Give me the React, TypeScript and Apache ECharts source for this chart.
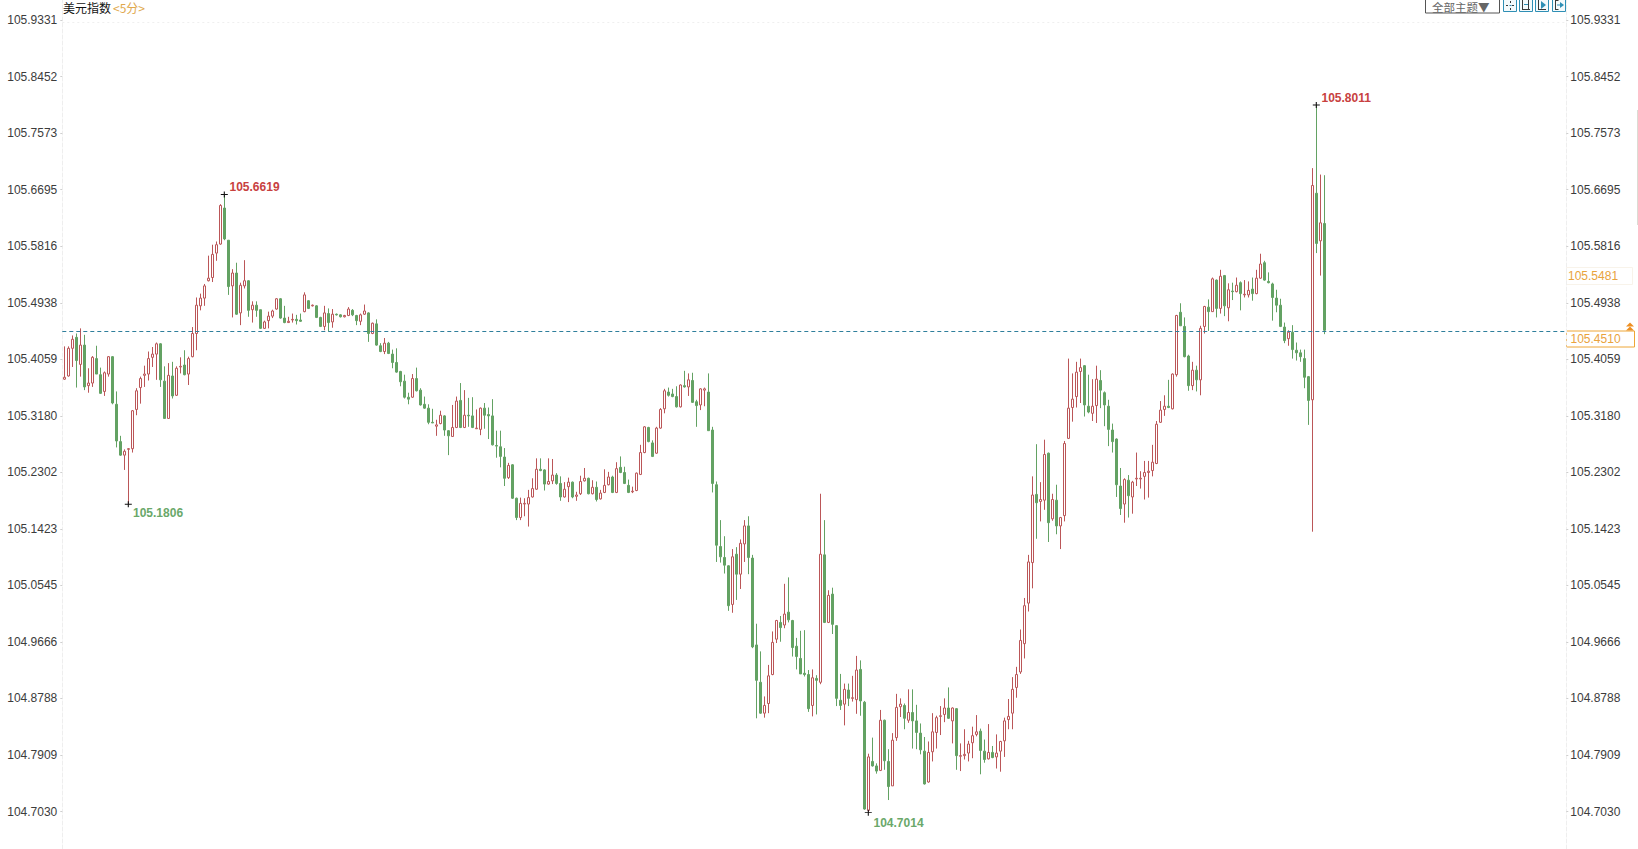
import React, { useEffect, useRef } from "react";
import * as echarts from "echarts";

const yTicks = [105.9331, 105.8452, 105.7573, 105.6695, 105.5816, 105.4938, 105.4059, 105.318, 105.2302, 105.1423, 105.0545, 104.9666, 104.8788, 104.7909, 104.703];

const opens = [
105.375,105.380,105.423,105.440,105.398,105.428,105.365,105.369,105.407,105.382,
105.356,105.383,105.410,105.336,105.278,105.257,105.266,105.267,105.328,105.362,
105.381,105.383,105.409,105.414,105.430,105.372,105.314,105.380,105.350,105.394,
105.397,105.383,105.410,105.446,105.489,105.501,105.528,105.533,105.571,105.585,
105.641,105.591,105.520,105.540,105.478,105.520,105.528,105.483,105.490,105.483,
105.454,105.466,105.473,105.484,105.500,105.470,105.463,105.467,105.468,105.467,
105.480,105.497,105.489,105.489,105.471,105.457,105.477,105.464,105.476,105.475,
105.472,105.474,105.482,105.474,105.465,105.476,105.478,105.446,105.461,105.427,
105.418,105.431,105.414,105.401,105.387,105.372,105.347,105.347,105.376,105.358,
105.336,105.330,105.308,105.302,105.306,105.318,105.295,105.286,105.300,105.342,
105.300,105.319,105.318,105.298,105.297,105.330,105.320,105.318,105.272,105.270,
105.254,105.222,105.242,105.190,105.160,105.181,105.181,105.192,105.204,105.235,
105.234,105.212,105.217,105.226,105.213,105.192,105.208,105.215,105.193,105.197,
105.217,105.221,105.197,105.207,105.189,105.199,105.211,105.223,105.199,105.238,
105.230,105.210,105.200,105.202,105.227,105.261,105.300,105.276,105.260,105.299,
105.329,105.355,105.352,105.348,105.332,105.365,105.363,105.373,105.340,105.335,
105.358,105.355,105.296,105.211,105.115,105.098,105.085,105.025,105.103,105.072,
105.119,105.147,105.097,104.962,104.904,104.856,104.871,104.916,104.971,104.997,
104.993,105.013,105.000,104.960,104.941,104.918,104.916,104.868,104.910,104.904,
105.102,104.997,105.041,104.992,104.876,104.870,104.892,104.879,104.877,104.924,
104.873,104.705,104.781,104.774,104.767,104.845,104.781,104.743,104.818,104.866,
104.868,104.845,104.857,104.844,104.825,104.797,104.749,104.796,104.826,104.851,
104.854,104.864,104.844,104.863,104.789,104.790,104.794,104.810,104.823,104.828,
104.797,104.785,104.795,104.788,104.797,104.813,104.846,104.856,104.896,104.920,
104.964,105.027,105.090,105.196,105.185,105.187,105.260,105.158,105.187,105.147,
105.163,105.283,105.331,105.348,105.387,105.396,105.333,105.322,105.334,105.373,
105.354,105.333,105.296,105.282,105.209,105.181,105.218,105.192,105.220,105.220,
105.224,105.230,105.233,105.244,105.308,105.328,105.333,105.329,105.382,105.479,
105.457,105.411,105.365,105.389,105.374,105.457,105.487,105.480,105.529,105.485,
105.536,105.486,105.512,105.511,105.525,105.506,105.506,105.515,105.508,105.532,
105.556,105.527,105.523,105.501,105.490,105.456,105.438,105.448,105.420,105.416,
105.407,105.379,105.343,105.664,105.590,105.617,
];

const closes = [
105.378,105.423,105.437,105.404,105.428,105.363,105.369,105.409,105.383,105.353,
105.385,105.410,105.338,105.279,105.257,105.263,105.267,105.326,105.357,105.376,
105.383,105.407,105.414,105.430,105.374,105.314,105.381,105.349,105.392,105.395,
105.382,105.407,105.446,105.490,105.501,105.520,105.532,105.569,105.584,105.645,
105.593,105.519,105.540,105.476,105.521,105.528,105.482,105.490,105.482,105.454,
105.464,105.473,105.481,105.500,105.470,105.463,105.465,105.468,105.466,105.465,
105.506,105.485,105.490,105.471,105.457,105.478,105.463,105.476,105.475,105.472,
105.474,105.484,105.475,105.466,105.475,105.481,105.446,105.462,105.428,105.418,
105.431,105.415,105.401,105.386,105.371,105.347,105.344,105.376,105.357,105.335,
105.330,105.308,105.307,105.304,105.319,105.296,105.287,105.300,105.341,105.300,
105.319,105.318,105.300,105.299,105.330,105.319,105.318,105.273,105.271,105.255,
105.221,105.241,105.190,105.160,105.182,105.182,105.191,105.205,105.235,105.233,
105.212,105.216,105.226,105.213,105.192,105.204,105.215,105.192,105.195,105.216,
105.221,105.197,105.207,105.188,105.198,105.210,105.223,105.199,105.236,105.230,
105.213,105.199,105.201,105.229,105.261,105.301,105.278,105.255,105.299,105.328,
105.357,105.350,105.348,105.332,105.366,105.363,105.374,105.339,105.334,105.360,
105.360,105.295,105.213,105.117,105.099,105.086,105.023,105.099,105.072,105.120,
105.147,105.098,104.959,104.907,104.856,104.868,104.914,104.966,105.000,104.989,
105.010,105.001,104.958,104.944,104.917,104.916,104.863,104.911,104.907,105.103,
104.997,105.039,104.994,104.879,104.868,104.893,104.879,104.880,104.923,104.875,
104.707,104.788,104.774,104.766,104.845,104.782,104.742,104.814,104.865,104.870,
104.848,104.857,104.844,104.826,104.799,104.746,104.795,104.827,104.849,104.852,
104.864,104.848,104.864,104.790,104.790,104.792,104.808,104.821,104.827,104.798,
104.784,104.795,104.787,104.794,104.812,104.844,104.851,104.893,104.916,104.969,
105.023,105.091,105.195,105.183,105.188,105.258,105.152,105.188,105.147,105.160,
105.275,105.330,105.344,105.386,105.393,105.335,105.324,105.333,105.375,105.358,
105.335,105.297,105.278,105.211,105.174,105.219,105.194,105.215,105.221,105.221,
105.230,105.232,105.246,105.305,105.327,105.333,105.331,105.383,105.474,105.458,
105.410,105.365,105.389,105.374,105.454,105.488,105.480,105.531,105.485,105.535,
105.489,105.514,105.511,105.521,105.508,105.507,105.513,105.508,105.532,105.554,
105.529,105.525,105.502,105.490,105.457,105.435,105.448,105.421,105.416,105.410,
105.378,105.342,105.676,105.586,105.618,105.451,
];

const lows = [
105.374,105.379,105.394,105.362,105.379,105.358,105.354,105.363,105.383,105.352,
105.349,105.379,105.336,105.269,105.256,105.234,105.1806,105.261,105.319,105.337,
105.363,105.373,105.394,105.374,105.363,105.314,105.314,105.345,105.349,105.384,
105.381,105.366,105.409,105.420,105.482,105.489,105.527,105.526,105.559,105.584,
105.591,105.506,105.471,105.475,105.459,105.516,105.472,105.463,105.472,105.453,
105.453,105.454,105.470,105.483,105.469,105.462,105.463,105.463,105.460,105.464,
105.479,105.484,105.488,105.470,105.456,105.451,105.449,105.455,105.474,105.471,
105.471,105.473,105.473,105.459,105.459,105.475,105.433,105.445,105.427,105.417,
105.414,105.414,105.392,105.385,105.364,105.345,105.336,105.346,105.356,105.334,
105.329,105.305,105.307,105.287,105.305,105.287,105.257,105.286,105.299,105.299,
105.299,105.301,105.299,105.298,105.288,105.298,105.282,105.272,105.253,105.238,
105.209,105.220,105.189,105.156,105.156,105.162,105.146,105.191,105.203,105.232,
105.202,105.211,105.212,105.211,105.186,105.191,105.184,105.190,105.186,105.195,
105.216,105.196,105.196,105.185,105.188,105.198,105.210,105.198,105.198,105.229,
105.212,105.198,105.198,105.201,105.226,105.260,105.277,105.254,105.259,105.298,
105.322,105.348,105.347,105.331,105.331,105.362,105.349,105.338,105.301,105.327,
105.333,105.295,105.199,105.091,105.090,105.073,105.015,105.012,105.032,105.049,
105.091,105.072,104.957,104.848,104.855,104.849,104.856,104.915,104.965,104.967,
104.988,104.997,104.944,104.924,104.917,104.913,104.858,104.851,104.854,104.901,
104.996,104.996,104.979,104.867,104.861,104.837,104.867,104.874,104.855,104.852,
104.706,104.7014,104.773,104.762,104.766,104.768,104.721,104.743,104.813,104.850,
104.831,104.841,104.801,104.800,104.792,104.745,104.748,104.781,104.801,104.822,
104.842,104.847,104.809,104.768,104.766,104.784,104.781,104.786,104.820,104.761,
104.779,104.784,104.786,104.770,104.765,104.788,104.831,104.831,104.880,104.917,
104.941,105.014,105.050,105.127,105.154,105.172,105.122,105.155,105.134,105.111,
105.154,105.282,105.309,105.331,105.338,105.317,105.322,105.310,105.307,105.330,
105.302,105.271,105.261,105.192,105.164,105.152,105.160,105.166,105.209,105.205,
105.188,105.191,105.224,105.243,105.307,105.318,105.330,105.328,105.379,105.458,
105.409,105.357,105.358,105.356,105.350,105.446,105.450,105.480,105.471,105.477,
105.473,105.465,105.498,105.510,105.482,105.502,105.502,105.497,105.507,105.531,
105.528,105.524,105.466,105.479,105.456,105.431,105.427,105.407,105.404,105.402,
105.361,105.304,105.138,105.571,105.536,105.445,
];

const highs = [
105.426,105.426,105.443,105.446,105.454,105.444,105.392,105.411,105.427,105.393,
105.387,105.411,105.411,105.356,105.287,105.266,105.268,105.327,105.361,105.379,
105.396,105.418,105.425,105.432,105.431,105.395,105.400,105.402,105.395,105.409,
105.420,105.410,105.456,105.502,105.508,105.523,105.567,105.584,105.589,105.647,
105.6619,105.591,105.546,105.556,105.525,105.560,105.529,105.496,105.496,105.483,
105.466,105.480,105.483,105.501,105.501,105.489,105.472,105.477,105.475,105.477,
105.510,105.498,105.491,105.490,105.472,105.489,105.485,105.484,105.477,105.476,
105.475,105.487,105.484,105.475,105.477,105.491,105.479,105.463,105.468,105.431,
105.439,105.433,105.421,105.423,105.388,105.382,105.354,105.383,105.393,105.361,
105.348,105.336,105.329,105.312,105.326,105.319,105.296,105.335,105.348,105.369,
105.358,105.346,105.347,105.328,105.331,105.338,105.331,105.344,105.295,105.295,
105.268,105.245,105.243,105.191,105.191,105.190,105.203,105.221,105.252,105.252,
105.235,105.252,105.251,105.229,105.224,105.215,105.222,105.216,105.200,105.225,
105.237,105.222,105.218,105.216,105.203,105.235,105.231,105.225,105.246,105.255,
105.239,105.219,105.208,105.230,105.273,105.302,105.301,105.280,105.301,105.330,
105.360,105.362,105.360,105.364,105.367,105.388,105.384,105.385,105.343,105.361,
105.362,105.384,105.301,105.216,105.156,105.131,105.086,105.111,105.114,105.126,
105.156,105.162,105.102,104.995,104.952,104.882,104.931,104.983,105.001,105.007,
105.057,105.067,105.001,104.973,104.984,104.985,104.923,104.924,104.915,105.197,
105.156,105.047,105.051,104.993,104.917,104.902,104.902,104.914,104.945,104.938,
104.875,104.793,104.818,104.778,104.861,104.846,104.800,104.825,104.886,104.879,
104.871,104.893,104.893,104.869,104.840,104.819,104.812,104.856,104.852,104.867,
104.879,104.896,104.865,104.864,104.809,104.831,104.813,104.835,104.853,104.832,
104.815,104.839,104.805,104.823,104.813,104.849,104.878,104.912,104.928,104.986,
105.035,105.102,105.224,105.274,105.215,105.281,105.261,105.197,105.211,105.161,
105.279,105.407,105.384,105.402,105.407,105.397,105.382,105.375,105.396,105.389,
105.356,105.343,105.306,105.283,105.237,105.221,105.226,105.217,105.261,105.232,
105.248,105.248,105.273,105.310,105.341,105.350,105.374,105.384,105.475,105.493,
105.471,105.413,105.402,105.396,105.458,105.489,105.499,105.533,105.530,105.545,
105.537,105.524,105.525,105.533,105.527,105.529,105.527,105.533,105.545,105.570,
105.559,105.541,105.525,105.514,105.500,105.463,105.451,105.459,105.432,105.421,
105.421,105.380,105.703,105.8011,105.693,105.692,
];

const extremes = [
  { index: 40, value: 105.6619, text: "105.6619", kind: "high" },
  { index: 16, value: 105.1806, text: "105.1806", kind: "low" },
  { index: 201, value: 104.7014, text: "104.7014", kind: "low" },
  { index: 313, value: 105.8011, text: "105.8011", kind: "high" },
];

const lastPrice = 105.451;
const titleText = "美元指数";
const periodText = "<5分>";
const themeText = "全部主题▼";
const prevLabel = "105.5481";
const lastLabel = "105.4510";

const FONT = "'Liberation Sans', Arial, sans-serif";
const CJK = "'Noto Sans CJK SC'";
const RED = "#bb5658";
const GREEN = "#63a263";
const ICON = "#2f8fb5";
const DARK = "#3a3a3a";
const ORANGE = "#e9a33c";
const SLOTS = 376;

const seg = (x1: number, y1: number, x2: number, y2: number, stroke: string) => ({
  type: "line",
  shape: { x1, y1, x2, y2 },
  style: { stroke, lineWidth: 1 },
});

function iconFrame(x: number) {
  return { type: "rect", shape: { x: x + 0.5, y: -1.5, width: 13, height: 13 }, style: { fill: "#f4fafc", stroke: ICON, lineWidth: 1 } };
}

const toolbarIcons = [
  iconFrame(1503),
  seg(1506, 5.5, 1508, 5.5, DARK), seg(1512, 5.5, 1514, 5.5, DARK), seg(1510.5, 1, 1510.5, 3, DARK), seg(1510.5, 8, 1510.5, 10, DARK), seg(1509.5, 5.5, 1511.5, 5.5, ICON),
  iconFrame(1519),
  seg(1522.5, 0, 1522.5, 9.5, DARK), seg(1528.5, 0, 1528.5, 9.5, DARK), seg(1522, 9.5, 1530, 9.5, DARK), seg(1524, 4.5, 1528, 4.5, ICON),
  iconFrame(1535),
  seg(1538.5, 0, 1538.5, 9.5, DARK), seg(1538, 9.5, 1546, 9.5, DARK),
  { type: "polygon", shape: { points: [[1541, 1], [1546, 5], [1541, 9]] }, style: { fill: ICON } },
  iconFrame(1552),
  seg(1555.5, 0, 1555.5, 10, DARK), seg(1555.5, 0.5, 1558.5, 0.5, DARK), seg(1555.5, 9.5, 1558.5, 9.5, DARK), seg(1557, 5, 1561, 5, ICON),
  { type: "polygon", shape: { points: [[1560, 2], [1564, 5], [1560, 8]] }, style: { fill: ICON } },
];

export default function App() {
  const ref = useRef<HTMLDivElement>(null);
  useEffect(() => {
    if (!ref.current) return;
    const chart = echarts.init(ref.current, undefined, { renderer: "svg" });
    const categories = Array.from({ length: SLOTS }, (_, i) => String(i));
    const yAxisBase = {
      type: "value",
      min: 104.6449,
      max: 105.9643,
      splitLine: { show: false },
      axisLine: { show: true, lineStyle: { color: "#eeeeee", type: "dashed", width: 1 } },
      axisTick: { show: true, customValues: yTicks, length: 2, lineStyle: { color: "#cfcfcf" } },
    };
    const labelBase = {
      customValues: yTicks,
      formatter: (v: number) => v.toFixed(4),
      color: "#3c3c3c",
      fontFamily: FONT,
      fontSize: 12,
      padding: [0, 0, 2, 0],
    };
    const labelOffsets: Record<number, number[]> = {
      40: [-1, -8],
      16: [-1.5, 8.5],
      201: [-1, 10],
      313: [-1, -7],
    };
    chart.setOption({
      animation: false,
      backgroundColor: "#ffffff",
      grid: { left: 62.3, right: 71.7, top: 0, bottom: 0, containLabel: false },
      xAxis: { type: "category", data: categories, show: false, boundaryGap: true },
      yAxis: [
        { ...yAxisBase, position: "left", axisLabel: { ...labelBase, margin: 5 } },
        { ...yAxisBase, position: "right", axisLabel: { ...labelBase, margin: 4 } },
      ],
      series: [
        {
          type: "candlestick",
          data: opens.map((o, i) => [o, closes[i], lows[i], highs[i]]),
          barWidth: 3,
          clip: false,
          itemStyle: { color: "#ffffff", color0: GREEN, borderColor: RED, borderColor0: GREEN, borderWidth: 1 },
          markLine: {
            silent: true,
            symbol: "none",
            label: { show: false },
            data: [
              { yAxis: lastPrice, lineStyle: { color: "#2f7f9c", type: [4, 3], width: 1 } },
              { yAxis: yTicks[0], lineStyle: { color: "#efefef", type: [2, 3], width: 1 } },
            ],
          },
          markPoint: {
            silent: true,
            symbol: "path://M0 5H10M5 0V10",
            symbolSize: [7, 6],
            itemStyle: { color: "none", borderColor: "#111", borderWidth: 1 },
            data: extremes.map((e) => ({
              coord: [e.index, e.value],
              label: {
                show: true,
                formatter: e.text,
                position: "right",
                distance: 0,
                offset: labelOffsets[e.index],
                color: e.kind === "high" ? "#c8413f" : "#6aa86a",
                fontFamily: FONT,
                fontSize: 12,
                fontWeight: "bold",
              },
            })),
          },
        },
      ],
      graphic: [
        { type: "text", x: 63, y: 1, style: { text: titleText, fontFamily: CJK, fontSize: 12, fill: "#111" } },
        { type: "text", x: 113, y: 1, style: { text: periodText, fontFamily: CJK, fontSize: 12, fill: "#e0a84d" } },
        { type: "rect", shape: { x: 1425.5, y: -2, width: 74, height: 15 }, style: { fill: "#fff", stroke: "#555", lineWidth: 1 } },
        { type: "text", x: 1432, y: 1, style: { text: themeText, fontFamily: CJK, fontSize: 11.5, fill: "#666" } },
        ...toolbarIcons,
        { type: "rect", shape: { x: 1566.5, y: 267.5, width: 66, height: 17 }, style: { fill: "#fff", stroke: "#f8f3ea", lineWidth: 1 } },
        { type: "text", x: 1568, y: 270, style: { text: prevLabel, fontFamily: FONT, fontSize: 12, fill: ORANGE } },
        { type: "rect", shape: { x: 1566.5, y: 331, width: 68, height: 16 }, style: { fill: "#fff", stroke: "#eea637", lineWidth: 1 } },
        { type: "text", x: 1570.5, y: 333, style: { text: lastLabel, fontFamily: FONT, fontSize: 12, fill: ORANGE } },
        { type: "polygon", shape: { points: [[1630, 322.5], [1634, 326.5], [1626, 326.5]] }, style: { fill: "#ee8f22" } },
        { type: "polygon", shape: { points: [[1630, 326.5], [1634, 330.5], [1626, 330.5]] }, style: { fill: "#ee8f22" } },
        { type: "line", shape: { x1: 1637.5, y1: 110, x2: 1637.5, y2: 225 }, style: { stroke: "#dcdcd4", lineWidth: 1 } },
      ],
    });
    return () => chart.dispose();
  }, []);
  return <div ref={ref} style={{ position: "fixed", left: 0, top: 0, width: 1638, height: 849 }} />;
}
